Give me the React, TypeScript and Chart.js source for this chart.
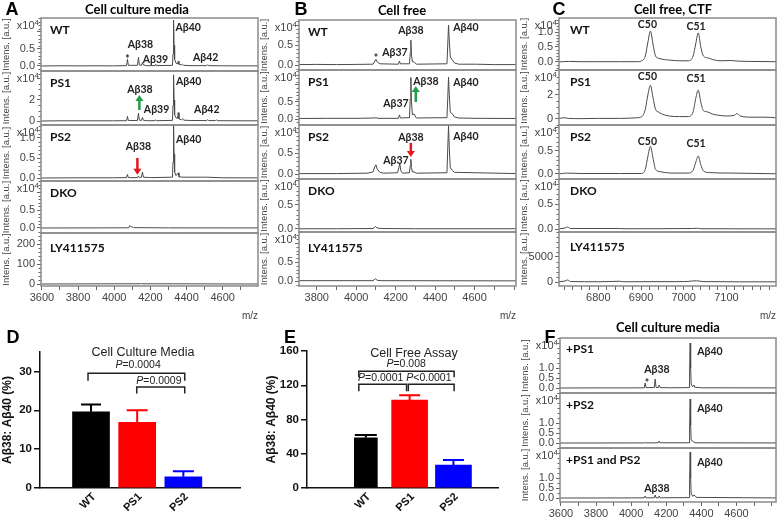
import React, { useEffect, useRef } from 'react';
import { Chart, registerables } from 'chart.js';
Chart.register(...registerables);

type Pt = [number, number];
type Ann = [string, number, number];
type Arrow = [number, number, number, string];

// ---------------- spectra data (intensity in x10^4 unless noted) ----------------
const GREEN = '#1f9d48';
const RED = '#e3171d';

const A_WT: Pt[] = [[3595,0],[3700,0.006],[3800,0.004],[3900,0.006],[3990,0.004],[4068,0.01],[4073,0.2],[4078,0.02],[4128,0.02],[4134,0.25],[4139,0.03],[4151,0.02],[4156,0.1],[4161,0.03],[4180,0.01],[4225,0.01],[4229,0.05],[4233,0.01],[4322,0.02],[4325,0.35],[4328,1.35],[4331,0.6],[4334,0.2],[4342,0.08],[4350,0.06],[4354,0.14],[4358,0.05],[4372,0.03],[4378,0.05],[4384,0.02],[4420,0.01],[4512,0.01],[4517,0.04],[4522,0.01],[4600,0.005],[4700,0.004],[4795,0.003]];
const A_PS1: Pt[] = [[3595,0],[3700,0.02],[3850,0.02],[3990,0.02],[4068,0.03],[4073,0.45],[4078,0.05],[4128,0.05],[4134,0.75],[4139,0.08],[4151,0.06],[4156,0.35],[4161,0.07],[4180,0.03],[4225,0.03],[4229,0.12],[4233,0.03],[4322,0.06],[4325,1.5],[4328,4.4],[4331,2.0],[4334,0.6],[4342,0.3],[4350,0.25],[4354,0.8],[4358,0.2],[4372,0.12],[4378,0.22],[4384,0.08],[4420,0.05],[4512,0.04],[4517,0.12],[4522,0.04],[4560,0.04],[4565,0.1],[4570,0.03],[4700,0.02],[4795,0.02]];
const A_PS2: Pt[] = [[3595,0],[3800,0.005],[3990,0.005],[4068,0.01],[4073,0.09],[4078,0.01],[4128,0.01],[4134,0.05],[4139,0.01],[4151,0.02],[4156,0.15],[4161,0.02],[4200,0.01],[4322,0.02],[4325,0.4],[4328,1.4],[4331,0.6],[4334,0.15],[4342,0.06],[4354,0.13],[4358,0.03],[4380,0.02],[4517,0.02],[4600,0.005],[4795,0.003]];
const A_DKO: Pt[] = [[3595,0],[3900,0.003],[4080,0.005],[4086,0.07],[4092,0.04],[4100,0.03],[4106,0.01],[4300,0.003],[4795,0.002]];
const A_LY: Pt[] = [[3595,0],[4000,1],[4146,1],[4150,5],[4154,1],[4282,1],[4285,3],[4288,1],[4795,0]]; // a.u.

const B_WT: Pt[] = [[3710,0.01],[3800,0.015],[3900,0.01],[4000,0.015],[4085,0.02],[4095,0.1],[4100,0.14],[4106,0.08],[4120,0.03],[4214,0.02],[4219,0.1],[4224,0.03],[4270,0.03],[4274,0.3],[4277,0.62],[4280,0.25],[4285,0.08],[4293,0.08],[4305,0.02],[4460,0.03],[4464,0.5],[4468,1.0],[4472,0.6],[4477,0.2],[4488,0.12],[4498,0.05],[4520,0.02],[4606,0.02],[4700,0.01],[4810,0.01]];
const B_PS1: Pt[] = [[3710,0.015],[3850,0.02],[4000,0.02],[4095,0.03],[4100,0.04],[4110,0.02],[4214,0.02],[4219,0.12],[4224,0.03],[4270,0.04],[4274,0.6],[4277,1.22],[4280,0.5],[4285,0.12],[4293,0.15],[4305,0.03],[4460,0.04],[4464,0.6],[4468,1.23],[4472,0.7],[4477,0.2],[4488,0.15],[4498,0.06],[4520,0.03],[4606,0.02],[4810,0.015]];
const B_PS2: Pt[] = [[3710,0.01],[3900,0.01],[4060,0.02],[4085,0.05],[4095,0.18],[4100,0.22],[4106,0.12],[4120,0.04],[4140,0.02],[4210,0.03],[4216,0.15],[4221,0.25],[4226,0.08],[4235,0.02],[4270,0.03],[4274,0.2],[4277,0.35],[4280,0.15],[4285,0.05],[4293,0.05],[4305,0.02],[4460,0.03],[4464,0.6],[4468,1.15],[4472,0.6],[4477,0.15],[4488,0.08],[4498,0.04],[4606,0.03],[4810,0.01]];
const B_DKO: Pt[] = [[3710,0.005],[3900,0.005],[4085,0.01],[4098,0.05],[4106,0.02],[4130,0.01],[4300,0.005],[4810,0.005]];
const B_LY: Pt[] = [[3710,0.01],[4085,0.01],[4098,0.06],[4106,0.02],[4130,0.01],[4810,0.005]];

const C_WT: Pt[] = [[6708,0],[6730,0.02],[6760,0.01],[6800,0.01],[6850,0.01],[6890,0.01],[6902,0.04],[6910,0.2],[6916,0.65],[6922,1.03],[6928,0.6],[6934,0.2],[6942,0.12],[6955,0.08],[6970,0.06],[6990,0.04],[7010,0.04],[7022,0.2],[7028,0.6],[7034,0.97],[7040,0.5],[7046,0.2],[7056,0.14],[7068,0.08],[7085,0.04],[7110,0.05],[7125,0.03],[7150,0.02],[7216,0.01]];
const C_PS1: Pt[] = [[6708,0.05],[6720,0.1],[6730,0.05],[6760,0.03],[6800,0.05],[6850,0.05],[6890,0.1],[6902,0.2],[6910,0.8],[6916,2.0],[6922,2.8],[6928,1.8],[6934,0.8],[6940,0.6],[6950,0.4],[6965,0.25],[6990,0.2],[7010,0.2],[7022,0.6],[7028,1.7],[7034,2.4],[7040,1.4],[7046,0.7],[7055,0.6],[7068,0.4],[7085,0.3],[7100,0.25],[7118,0.3],[7125,0.45],[7132,0.25],[7160,0.15],[7190,0.15],[7216,0.1]];
const C_PS2: Pt[] = [[6708,0],[6725,0.02],[6760,0.01],[6850,0.01],[6900,0.01],[6910,0.1],[6916,0.38],[6922,0.6],[6928,0.35],[6934,0.1],[6945,0.05],[6970,0.02],[7010,0.02],[7022,0.08],[7028,0.25],[7034,0.39],[7040,0.2],[7046,0.07],[7060,0.03],[7110,0.02],[7216,0.005]];
const C_DKO: Pt[] = [[6708,0.005],[6722,0.02],[6728,0.04],[6735,0.01],[6850,0.01],[6860,0.005],[7020,0.01],[7030,0.015],[7040,0.005],[7216,0.003]];
const C_LY: Pt[] = [[6708,50],[6722,200],[6728,400],[6735,100],[6800,50],[6850,150],[6860,50],[7000,80],[7020,200],[7030,250],[7045,80],[7216,30]]; // a.u.

const F_PS1: Pt[] = [[3595,0],[3800,0.005],[4000,0.005],[4075,0.01],[4080,0.25],[4085,0.02],[4132,0.02],[4137,0.45],[4142,0.03],[4155,0.02],[4160,0.15],[4165,0.02],[4237,0.01],[4240,0.05],[4243,0.01],[4330,0.02],[4333,0.8],[4336,2.25],[4339,1.0],[4342,0.2],[4350,0.06],[4358,0.15],[4362,0.04],[4400,0.01],[4825,0.005]];
const F_PS2: Pt[] = [[3595,0],[4000,0.003],[4075,0.005],[4080,0.03],[4085,0.005],[4155,0.01],[4160,0.1],[4165,0.01],[4330,0.01],[4333,0.8],[4336,2.2],[4339,0.9],[4342,0.15],[4358,0.05],[4362,0.01],[4825,0.003]];
const F_BOTH: Pt[] = [[3595,0],[4000,0.004],[4075,0.01],[4080,0.1],[4085,0.01],[4132,0.01],[4137,0.15],[4142,0.01],[4155,0.01],[4160,0.1],[4165,0.01],[4330,0.02],[4333,0.8],[4336,2.3],[4339,1.0],[4342,0.2],[4352,0.08],[4358,0.15],[4366,0.1],[4372,0.03],[4825,0.003]];

// x tick values
const A_XT = [3600,3700,3800,3900,4000,4100,4200,4300,4400,4500,4600,4700];
const A_XL = [3600,3800,4000,4200,4400,4600];
const B_XT = [3800,3900,4000,4100,4200,4300,4400,4500,4600,4700,4800];
const B_XL = [3800,4000,4200,4400,4600];
const C_XT = [6720,6740,6760,6780,6800,6820,6840,6860,6880,6900,6920,6940,6960,6980,7000,7020,7040,7060,7080,7100,7120,7140,7160,7180,7200];
const C_XL = [6800,6900,7000,7100];
const F_XT = [3600,3700,3800,3900,4000,4100,4200,4300,4400,4500,4600,4700,4800];
const F_XL = [3600,3800,4000,4200,4400,4600];

// peak labels [text, m/z, intensity]
const A_WT_ANN: Ann[] = [['*',4073,0.26],['Aβ38',4145,0.62],['Aβ39',4228,0.2],['Aβ40',4409,1.12],['Aβ42',4506,0.26]];
const A_PS1_ANN: Ann[] = [['Aβ38',4142,2.95],['Aβ39',4234,1.05],['Aβ40',4412,3.71],['Aβ42',4512,1.05]];
const A_PS2_ANN: Ann[] = [['Aβ38',4134,0.78],['Aβ40',4412,0.95]];
const B_WT_ANN: Ann[] = [['*',4100,0.2],['Aβ37',4196,0.3],['Aβ38',4277,0.85],['Aβ40',4556,0.93]];
const B_PS1_ANN: Ann[] = [['Aβ38',4353,1.09],['Aβ37',4201,0.44],['Aβ40',4556,1.06]];
const B_PS2_ANN: Ann[] = [['Aβ38',4277,0.86],['Aβ37',4201,0.33],['Aβ40',4556,0.88]];
const C_WT_ANN: Ann[] = [['C50',6915,1.23],['C51',7029,1.17]];
const C_PS1_ANN: Ann[] = [['C50',6915,3.5],['C51',7029,3.33]];
const C_PS2_ANN: Ann[] = [['C50',6915,0.7],['C51',7029,0.67]];
const F_PS1_ANN: Ann[] = [['*',4090,0.3],['Aβ38',4147,0.9],['Aβ40',4449,1.8]];
const F_PS2_ANN: Ann[] = [['Aβ40',4449,1.7]];
const F_BOTH_ANN: Ann[] = [['Aβ40',4449,1.75],['Aβ38',4147,0.45]];

// arrows [m/z, tail intensity, tip intensity, colour]
const A_PS1_ARR: Arrow[] = [[4139,1.05,2.48,GREEN]];
const A_PS2_ARR: Arrow[] = [[4128,0.5,0.08,RED]];
const B_PS1_ARR: Arrow[] = [[4302,0.5,0.97,GREEN]];
const B_PS2_ARR: Arrow[] = [[4277,0.74,0.405,RED]];

// ---------------- bar chart data ----------------
const GROUPS = ['WT', 'PS1', 'PS2'];
const BAR_COLORS = ['#000000', '#ff0000', '#0000ff'];
const D_MEAN = [19.6, 16.9, 2.9];
const D_SEM = [1.9, 3.1, 1.4];
const E_MEAN = [58.7, 102.6, 26.8];
const E_SEM = [3.1, 5.8, 5.8];
const D_BRACKETS = [[0.935, 3.03, 29.5, 27.6], [1.99, 3.03, 26.0, 24.3]];
const D_PVALS: [string, number, number][] = [['=0.0004', 2.02, 31.6], ['=0.0009', 2.47, 27.5]];
const E_BRACKETS = [[0.84, 3.015, 136.4, 129.4], [0.84, 1.93, 121.3, 113.1], [1.97, 3.015, 121.3, 113.1]];
const E_PVALS: [string, number, number][] = [['=0.008', 1.92, 144.6], ['=0.0001', 1.34, 128.3], ['<0.0001', 2.44, 128.3]];

// ---------------- layout ----------------
const SANS = '"Liberation Sans", Arial, sans-serif';
const CAL = 'Lato, "Open Sans", sans-serif';
const AXW = 40;
const PAD = 6;
const RPAD = 2;
const XAXH = 36;

interface Sub { name: string; pts: Pt[]; top: number; bottom: number; ymin: number; ymax: number; yt: number[]; yl: string[]; minor: number; exp: boolean; ann?: Ann[]; arr?: Arrow[]; ny?: number }
interface Panel { left: number; right: number; xmin: number; xmax: number; xt: number[]; xl: number[]; smooth: boolean; nx: number; subs: Sub[] }

const T3 = [0, 0.5, 1.0];
const PANELS: Panel[] = [
  { left: 41, right: 258, xmin: 3595, xmax: 4795, xt: A_XT, xl: A_XL, smooth: false, nx: 9, subs: [
    { name: 'WT', pts: A_WT, top: 18, bottom: 71, ymin: -0.147, ymax: 1.41, yt: T3, yl: ['0.0','0.5',''], minor: 0.1, exp: true, ann: A_WT_ANN },
    { name: 'PS1', pts: A_PS1, top: 71, bottom: 125, ymin: -0.38, ymax: 4.76, yt: [0,2,4], yl: ['0','2',''], minor: 0.5, exp: true, ann: A_PS1_ANN, arr: A_PS1_ARR },
    { name: 'PS2', pts: A_PS2, top: 125, bottom: 181, ymin: -0.075, ymax: 1.325, yt: T3, yl: ['0.0','0.5','1.0'], minor: 0.1, exp: true, ann: A_PS2_ANN, arr: A_PS2_ARR },
    { name: 'DKO', pts: A_DKO, top: 181, bottom: 233, ymin: -0.139, ymax: 1.306, yt: T3, yl: ['0.0','0.5',''], minor: 0.1, exp: true },
    { name: 'LY411575', pts: A_LY, top: 233, bottom: 286, ymin: -10, ymax: 255, yt: [0,100,200], yl: ['0','100','200'], minor: 20, exp: false, ny: 15 },
  ]},
  { left: 299, right: 516, xmin: 3710, xmax: 4810, xt: B_XT, xl: B_XL, smooth: false, nx: 9, subs: [
    { name: 'WT', pts: B_WT, top: 20, bottom: 70, ymin: -0.125, ymax: 1.125, yt: T3, yl: ['0.0','0.5',''], minor: 0.1, exp: true, ann: B_WT_ANN },
    { name: 'PS1', pts: B_PS1, top: 70, bottom: 125, ymin: -0.176, ymax: 1.44, yt: T3, yl: ['0.0','0.5',''], minor: 0.1, exp: true, ann: B_PS1_ANN, arr: B_PS1_ARR },
    { name: 'PS2', pts: B_PS2, top: 125, bottom: 179, ymin: -0.119, ymax: 1.167, yt: T3, yl: ['0.0','0.5',''], minor: 0.1, exp: true, ann: B_PS2_ANN, arr: B_PS2_ARR },
    { name: 'DKO', pts: B_DKO, top: 179, bottom: 232, ymin: -0.0625, ymax: 1.04, yt: T3, yl: ['0.0','0.5',''], minor: 0.1, exp: true },
    { name: 'LY411575', pts: B_LY, top: 232, bottom: 286, ymin: -0.13, ymax: 1.29, yt: T3, yl: ['0.0','0.5',''], minor: 0.1, exp: true, ny: 16 },
  ]},
  { left: 559, right: 776, xmin: 6708, xmax: 7216, xt: C_XT, xl: C_XL, smooth: true, nx: 11, subs: [
    { name: 'WT', pts: C_WT, top: 18, bottom: 70, ymin: -0.267, ymax: 1.467, yt: T3, yl: ['0.0','0.5','1.0'], minor: 0.1, exp: true, ann: C_WT_ANN },
    { name: 'PS1', pts: C_PS1, top: 70, bottom: 125, ymin: -0.5, ymax: 4.08, yt: [0,2,4], yl: ['0','2',''], minor: 0.5, exp: true, ann: C_PS1_ANN },
    { name: 'PS2', pts: C_PS2, top: 125, bottom: 179, ymin: -0.109, ymax: 1.065, yt: T3, yl: ['0.0','0.5',''], minor: 0.1, exp: true, ann: C_PS2_ANN },
    { name: 'DKO', pts: C_DKO, top: 179, bottom: 232, ymin: -0.06, ymax: 1.0, yt: T3, yl: ['0.0','0.5',''], minor: 0.1, exp: true },
    { name: 'LY411575', pts: C_LY, top: 232, bottom: 286, ymin: -800, ymax: 10000, yt: [0,5000], yl: ['0','5000'], minor: 1000, exp: false, ny: 15 },
  ]},
  { left: 560, right: 776, xmin: 3595, xmax: 4825, xt: F_XT, xl: F_XL, smooth: false, nx: 6, subs: [
    { name: '+PS1', pts: F_PS1, top: 338, bottom: 393, ymin: -0.25, ymax: 2.5, yt: T3, yl: ['0.0','0.5','1.0'], minor: 0.25, exp: true, ann: F_PS1_ANN, ny: 11 },
    { name: '+PS2', pts: F_PS2, top: 393, bottom: 448, ymin: -0.25, ymax: 2.5, yt: T3, yl: ['0.0','0.5','1.0'], minor: 0.25, exp: true, ann: F_PS2_ANN },
    { name: '+PS1 and PS2', pts: F_BOTH, top: 448, bottom: 502, ymin: -0.2, ymax: 2.5, yt: T3, yl: ['0.0','0.5','1.0'], minor: 0.25, exp: true, ann: F_BOTH_ANN },
  ]},
];

function specPlugin(p: Panel, s: Sub) {
  return {
    id: 'spec',
    afterDraw(chart: any) {
      const { ctx, chartArea: ca, scales } = chart;
      const xs = scales.x, ys = scales.y;
      ctx.save();
      ctx.strokeStyle = '#666';
      ctx.lineWidth = 1;
      const n0 = Math.ceil(s.ymin / s.minor), n1 = Math.floor(s.ymax / s.minor);
      for (let n = n0; n <= n1; n++) {
        const v = n * s.minor;
        if (s.yt.some((t) => Math.abs(t - v) < 1e-9)) continue;
        const y = Math.round(ys.getPixelForValue(v)) + 0.5;
        ctx.beginPath(); ctx.moveTo(ca.left - 2.5, y); ctx.lineTo(ca.left, y); ctx.stroke();
      }
      ctx.strokeStyle = '#8a8a8a';
      ctx.lineWidth = 1.5;
      ctx.strokeRect(ca.left, ca.top, ca.right - ca.left, ca.bottom - ca.top);
      if (s.exp) {
        ctx.fillStyle = '#444';
        ctx.textAlign = 'right';
        ctx.textBaseline = 'alphabetic';
        ctx.font = `8px ${SANS}`;
        const sw = ctx.measureText('4').width;
        const xr = ca.left - 2, yb = ca.top + 11;
        ctx.fillText('4', xr, yb - 4);
        ctx.font = `11px ${SANS}`;
        ctx.fillText('x10', xr - sw, yb);
      }
      ctx.fillStyle = '#111';
      ctx.textAlign = 'left';
      ctx.textBaseline = 'middle';
      ctx.font = `bold 12px ${CAL}`;
      ctx.fillText(s.name, ca.left + p.nx, ca.top + (s.ny ?? 12));
      ctx.font = `bold 10.5px ${CAL}`;
      ctx.fillStyle = '#222';
      ctx.textAlign = 'center';
      (s.ann || []).forEach(([t, x, y]) => {
        ctx.fillText(t, xs.getPixelForValue(x), ys.getPixelForValue(y) + (t === '*' ? 2 : 0));
      });
      (s.arr || []).forEach(([x, y0, y1, col]) => {
        const px = xs.getPixelForValue(x);
        const pt = ys.getPixelForValue(y0), ph = ys.getPixelForValue(y1);
        const dir = Math.sign(ph - pt);
        ctx.strokeStyle = col; ctx.fillStyle = col; ctx.lineWidth = 2.5;
        ctx.beginPath(); ctx.moveTo(px, pt); ctx.lineTo(px, ph - dir * 5); ctx.stroke();
        ctx.beginPath(); ctx.moveTo(px - 4, ph - dir * 6); ctx.lineTo(px + 4, ph - dir * 6); ctx.lineTo(px, ph); ctx.closePath(); ctx.fill();
      });
      ctx.restore();
    },
  };
}

function SubChart({ p, s, last }: { p: Panel; s: Sub; last: boolean }) {
  const ref = useRef<HTMLCanvasElement>(null);
  const W = AXW + (p.right - p.left) + RPAD;
  const H = s.bottom - s.top + PAD + (last ? XAXH : PAD);
  useEffect(() => {
    const chart = new Chart(ref.current as HTMLCanvasElement, {
      type: 'line',
      data: { datasets: [{ data: s.pts as any, borderColor: '#4a4a4a', borderWidth: 1, pointRadius: 0, tension: p.smooth ? 0.4 : 0, cubicInterpolationMode: p.smooth ? 'monotone' : 'default' } as any] },
      options: {
        responsive: false, animation: false, devicePixelRatio: 1,
        layout: { padding: { left: 0, top: PAD, right: RPAD, bottom: last ? 0 : PAD } },
        plugins: { legend: { display: false }, tooltip: { enabled: false } },
        scales: {
          x: {
            type: 'linear', min: p.xmin, max: p.xmax, display: last,
            afterBuildTicks: (sc: any) => { sc.ticks = p.xt.map((v) => ({ value: v })); },
            afterFit: (sc: any) => { sc.height = last ? XAXH : 0; sc.paddingLeft = 0; sc.paddingRight = 0; },
            ticks: { autoSkip: false, maxRotation: 0, padding: 1, color: '#444', font: { family: SANS, size: 11 }, callback: (v: any) => (p.xl.includes(v) ? String(v) : '') },
            grid: { drawOnChartArea: false, tickLength: 4, color: '#666' },
            border: { display: false },
            title: { display: true, text: 'm/z', align: 'end', color: '#444', font: { family: SANS, size: 10 }, padding: 0 },
          },
          y: {
            type: 'linear', min: s.ymin, max: s.ymax,
            afterBuildTicks: (sc: any) => { sc.ticks = s.yt.map((v) => ({ value: v })); },
            afterFit: (sc: any) => { sc.width = AXW; sc.paddingTop = 0; sc.paddingBottom = 0; },
            ticks: { autoSkip: false, padding: 2, color: '#444', font: { family: SANS, size: 11 }, callback: (_v: any, i: number) => s.yl[i] },
            grid: { drawOnChartArea: false, tickLength: 4, color: '#666' },
            border: { display: false },
            title: { display: true, text: 'Intens. [a.u.]', color: '#444', font: { family: SANS, size: 9.5 }, padding: 0 },
          },
        },
      } as any,
      plugins: [specPlugin(p, s)],
    });
    return () => chart.destroy();
  }, []);
  return <canvas ref={ref} width={W} height={H} style={{ position: 'absolute', left: p.left - AXW, top: s.top - PAD, width: W, height: H }} />;
}

interface BarCfg { left: number; top: number; width: number; height: number; yw: number; pad: any; xmin: number; xmax: number; ymax: number; yt: number[]; mean: number[]; sem: number[]; thick: number[]; caps: number[]; brackets: number[][]; pvals: [string, number, number][] }

const D_CFG: BarCfg = { left: 0, top: 340, width: 250, height: 186, yw: 40, pad: { left: 0, top: 12, right: 10, bottom: 0 }, xmin: 0.617, xmax: 3.505, ymax: 35, yt: [0, 10, 20, 30], mean: D_MEAN, sem: D_SEM, thick: [37, 37, 37], caps: [20, 21, 21], brackets: D_BRACKETS, pvals: D_PVALS };
const E_CFG: BarCfg = { left: 264, top: 340, width: 256, height: 186, yw: 43, pad: { left: 0, top: 11, right: 22, bottom: 0 }, xmin: 0.384, xmax: 3.29, ymax: 160, yt: [0, 40, 80, 120, 160], mean: E_MEAN, sem: E_SEM, thick: [23, 36, 36], caps: [22, 21, 21], brackets: E_BRACKETS, pvals: E_PVALS };

function barPlugin(b: BarCfg) {
  return {
    id: 'bars',
    afterDatasetsDraw(chart: any) {
      const { ctx, scales, chartArea: ca } = chart;
      const xs = scales.x, ys = scales.y;
      ctx.save();
      b.mean.forEach((m, i) => {
        const x = xs.getPixelForValue(i + 1);
        const y0 = ys.getPixelForValue(m), y1 = ys.getPixelForValue(m + b.sem[i]);
        ctx.strokeStyle = BAR_COLORS[i]; ctx.lineWidth = 2;
        ctx.beginPath(); ctx.moveTo(x, y0); ctx.lineTo(x, y1);
        ctx.moveTo(x - b.caps[i] / 2, y1); ctx.lineTo(x + b.caps[i] / 2, y1); ctx.stroke();
      });
      ctx.strokeStyle = '#222'; ctx.lineWidth = 1.5;
      b.brackets.forEach(([x0, x1, y, ye]) => {
        const a = xs.getPixelForValue(x0), c = xs.getPixelForValue(x1);
        const py = ys.getPixelForValue(y), pe = ys.getPixelForValue(ye);
        ctx.beginPath(); ctx.moveTo(a, pe); ctx.lineTo(a, py); ctx.lineTo(c, py); ctx.lineTo(c, pe); ctx.stroke();
      });
      ctx.fillStyle = '#222'; ctx.textBaseline = 'middle'; ctx.textAlign = 'left';
      b.pvals.forEach(([t, x, y]) => {
        const fi = `italic 10.5px ${SANS}`, fn = `10.5px ${SANS}`;
        ctx.font = fi; const w1 = ctx.measureText('P').width;
        ctx.font = fn; const w2 = ctx.measureText(t).width;
        const cx = xs.getPixelForValue(x), cy = ys.getPixelForValue(y);
        const x0 = cx - (w1 + w2) / 2;
        ctx.font = fi; ctx.fillText('P', x0, cy);
        ctx.font = fn; ctx.fillText(t, x0 + w1, cy);
      });
      // rotated category labels, placed from the x scale
      ctx.fillStyle = '#111';
      ctx.font = `bold 11px ${SANS}`;
      ctx.textAlign = 'right';
      ctx.textBaseline = 'middle';
      GROUPS.forEach((g, i) => {
        const x = xs.getPixelForValue(i + 1);
        ctx.save();
        ctx.translate(x + 3, ca.bottom + 7);
        ctx.rotate(-Math.PI / 4);
        ctx.fillText(g, 0, 0);
        ctx.restore();
      });
      ctx.restore();
    },
  };
}

function BarChart({ b }: { b: BarCfg }) {
  const ref = useRef<HTMLCanvasElement>(null);
  useEffect(() => {
    const chart = new Chart(ref.current as HTMLCanvasElement, {
      type: 'bar',
      data: { datasets: GROUPS.map((g, i) => ({ label: g, data: [{ x: i + 1, y: b.mean[i] }], backgroundColor: BAR_COLORS[i], maxBarThickness: b.thick[i], barPercentage: 1, categoryPercentage: 1, grouped: false, borderWidth: 0 })) as any },
      options: {
        responsive: false, animation: false, devicePixelRatio: 1,
        layout: { padding: b.pad },
        plugins: { legend: { display: false }, tooltip: { enabled: false } },
        scales: {
          x: {
            type: 'linear', min: b.xmin, max: b.xmax,
            afterBuildTicks: (sc: any) => { sc.ticks = [1, 2, 3].map((v) => ({ value: v })); },
            afterFit: (sc: any) => { sc.height = 38; sc.paddingLeft = 0; sc.paddingRight = 0; },
            ticks: { display: false },
            grid: { drawOnChartArea: false, drawTicks: false },
            border: { display: true, color: '#111', width: 1.5 },
          },
          y: {
            type: 'linear', min: 0, max: b.ymax,
            afterBuildTicks: (sc: any) => { sc.ticks = b.yt.map((v) => ({ value: v })); },
            afterFit: (sc: any) => { sc.width = b.yw; sc.paddingTop = 0; sc.paddingBottom = 0; },
            ticks: { autoSkip: false, padding: 2, color: '#111', font: { family: SANS, size: 11.5, weight: 'bold' } },
            grid: { drawOnChartArea: false, tickLength: 6, color: '#111', lineWidth: 1.5 },
            border: { display: true, color: '#111', width: 1.5 },
            title: { display: true, text: 'Aβ38: Aβ40 (%)', color: '#111', font: { family: SANS, size: 12, weight: 'bold' }, padding: 0 },
          },
        },
      } as any,
      plugins: [barPlugin(b)],
    });
    return () => chart.destroy();
  }, []);
  return <canvas ref={ref} width={b.width} height={b.height} style={{ position: 'absolute', left: b.left, top: b.top, width: b.width, height: b.height }} />;
}

function Txt({ x, y, t, font, color = '#000' }: { x: number; y: number; t: string; font: string; color?: string }) {
  return <div style={{ position: 'absolute', left: x, top: y, transform: 'translate(-50%, -50%)', font, lineHeight: 1, color, whiteSpace: 'nowrap' }}>{t}</div>;
}

export default function App() {
  const letter = `bold 18px ${SANS}`;
  const head = `bold 13px ${CAL}`;
  return (
    <div style={{ position: 'absolute', left: 0, top: 0, width: 778, height: 526, overflow: 'hidden', background: '#fff' }}>
      {PANELS.map((p, pi) => p.subs.map((s, si) => <SubChart key={pi + '-' + si} p={p} s={s} last={si === p.subs.length - 1} />))}
      <BarChart b={D_CFG} />
      <BarChart b={E_CFG} />
      <Txt x={12} y={9} t="A" font={letter} />
      <Txt x={301} y={9} t="B" font={letter} />
      <Txt x={559} y={9} t="C" font={letter} />
      <Txt x={13} y={337} t="D" font={letter} />
      <Txt x={290} y={337} t="E" font={letter} />
      <Txt x={550} y={337} t="F" font={letter} />
      <Txt x={137} y={9} t="Cell culture media" font={head} />
      <Txt x={402} y={10} t="Cell free" font={head} />
      <Txt x={673} y={9} t="Cell free, CTF" font={head} />
      <Txt x={668} y={327} t="Cell culture media" font={head} />
      <Txt x={143} y={352} t="Cell Culture Media" font={`12.5px ${SANS}`} color="#222" />
      <Txt x={414} y={353} t="Cell Free Assay" font={`12.5px ${SANS}`} color="#222" />
    </div>
  );
}
